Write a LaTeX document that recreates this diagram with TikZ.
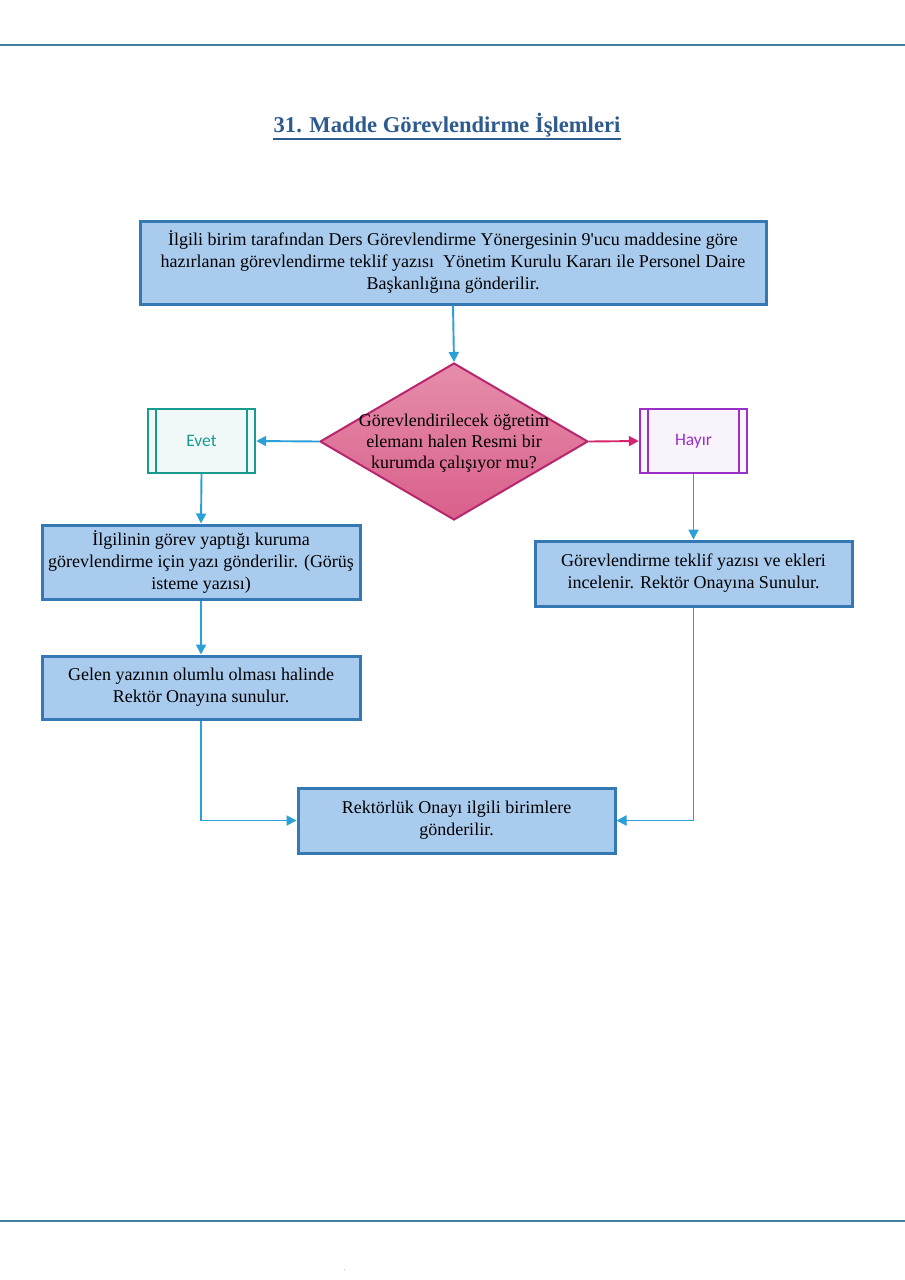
\documentclass[tikz,border=0pt]{standalone}
\usepackage{fontspec}
\setmainfont{Liberation Serif}[Ligatures=TeXOff]
\newfontfamily\calib{Carlito}
\usetikzlibrary{shapes.geometric,arrows.meta}
\definecolor{boxfill}{HTML}{A9CBEE}
\definecolor{boxdraw}{HTML}{3479B4}
\definecolor{arr}{HTML}{2A9FD8}
\definecolor{pinkd}{HTML}{B8266D}
\definecolor{pinktop}{HTML}{E68DAA}
\definecolor{pinkbot}{HTML}{D9608C}
\definecolor{pinkarr}{HTML}{D6246E}
\definecolor{teal}{HTML}{1A9A8F}
\definecolor{purp}{HTML}{9A30C8}
\definecolor{titlec}{HTML}{2E5B8F}
\definecolor{rule}{HTML}{3E7F9E}
\tikzset{
  procbox/.style={draw=boxdraw,line width=3pt,fill=boxfill,inner sep=0pt,align=center,font=\fontsize{18}{22}\selectfont},
  conn/.style={draw=arr,line width=1.9pt,-{Triangle[length=10pt,width=10pt]}},
  sidebox/.style={line width=2.4pt,inner sep=0pt,minimum width=107pt,minimum height=64pt,font=\calib\fontsize{17.5}{20}\selectfont},
}
\begin{document}
\begin{tikzpicture}[x=1pt,y=-1pt]
\useasboundingbox[fill=white] (0,0) rectangle (905,1280);
\coordinate (tl) at (0,45); \coordinate (tr) at (905,45);
\coordinate (bl) at (0,1221); \coordinate (br) at (905,1221);
\draw[rule,line width=1.8pt] (tl) -- (tr);
\draw[rule,line width=1.8pt] (bl) -- (br);
\node[font=\bfseries\fontsize{22.6}{26}\selectfont,text=titlec,inner sep=0pt] (title) at (447,125) {31. Madde Görevlendirme İşlemleri};
\draw[titlec,line width=1.6pt] ([yshift=-2pt]title.south west) -- ([yshift=-2pt]title.south east);

\node[procbox,minimum width=626pt,minimum height=83pt] (b1) at (453,262.5)
 {İlgili birim tarafından Ders Görevlendirme Yönergesinin 9'ucu maddesine göre\\
  hazırlanan görevlendirme teklif yazısı\ \ Yönetim Kurulu Kararı ile Personel Daire\\
  Başkanlığına gönderilir.};

\node[diamond,draw=pinkd,line width=2pt,top color=pinktop,bottom color=pinkbot,minimum width=268pt,minimum height=157pt,inner sep=0pt] (d) at (454,441.5) {};
\node[align=center,font=\fontsize{18}{21}\selectfont,inner sep=0pt] (dt) at (454,443) {Görevlendirilecek öğretim\\elemanı halen Resmi bir\\kurumda çalışıyor mu?};

\node[sidebox,draw=teal,fill=teal!6!white,text=teal] (ev) at (201.5,441) {Evet};
\draw[teal,line width=2.4pt] ([xshift=9pt]ev.north west) -- ([xshift=9pt]ev.south west);
\draw[teal,line width=2.4pt] ([xshift=-9pt]ev.north east) -- ([xshift=-9pt]ev.south east);

\node[sidebox,draw=purp,fill=purp!6!white,text=purp] (ha) at (693.5,441) {Hayır};
\draw[purp,line width=2.4pt] ([xshift=9pt]ha.north west) -- ([xshift=9pt]ha.south west);
\draw[purp,line width=2.4pt] ([xshift=-9pt]ha.north east) -- ([xshift=-9pt]ha.south east);

\node[procbox,minimum width=318pt,minimum height=74pt] (b2) at (201,562)
 {İlgilinin görev yaptığı kuruma\\görevlendirme için yazı gönderilir. (Görüş\\isteme yazısı)};
\node[procbox,minimum width=317pt,minimum height=65pt] (b3) at (693.5,573.5)
 {Görevlendirme teklif yazısı ve ekleri\\incelenir. Rektör Onayına Sunulur.};
\node[procbox,minimum width=318pt,minimum height=63pt] (b4) at (201,687.5)
 {Gelen yazının olumlu olması halinde\\Rektör Onayına sunulur.};
\node[procbox,minimum width=317pt,minimum height=65pt] (b5) at (456.5,820.5)
 {Rektörlük Onayı ilgili birimlere\\gönderilir.};

\draw[conn] (b1.south) -- (d.north);
\draw[conn] (d.west) -- (ev.east);
\draw[conn,draw=pinkarr] (d.east) -- (ha.west);
\draw[conn] (ev.south) -- (b2.north);
\draw[conn] (ha.south) -- (b3.north);
\draw[conn] (b2.south) -- (b4.north);
\draw[conn] (b4.south) |- (b5.west);
\draw[conn] (b3.south) |- (b5.east);
\node[font=\fontsize{6}{6}\selectfont,text=gray,inner sep=0pt] (dot) at (345,1272) {'};
\end{tikzpicture}
\end{document}
